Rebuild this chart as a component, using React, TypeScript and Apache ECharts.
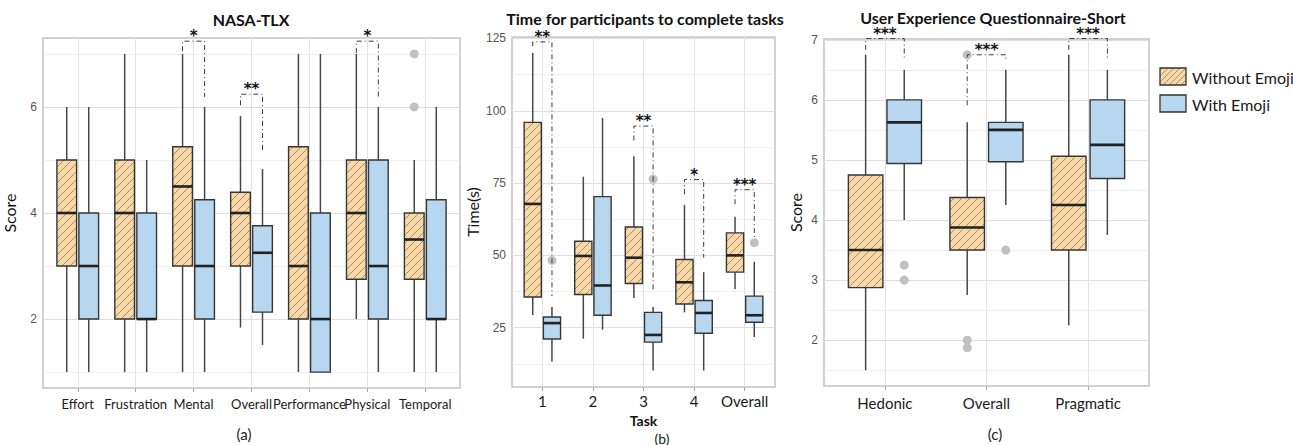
import React, { useEffect, useRef } from 'react';
import * as echarts from 'echarts';

// ---------- DATA ----------
// Box rows: [min, Q1, median, Q3, max]
const tlxCategories = ['Effort', 'Frustration', 'Mental', 'Overall', 'Performance', 'Physical', 'Temporal'];
const tlxWithout = [
  [1, 3, 4, 5, 6],
  [1, 2, 4, 5, 7],
  [1, 3, 4.5, 5.25, 7],
  [1.84, 3, 4, 4.39, 5.83],
  [1, 2, 3, 5.25, 7],
  [2, 2.75, 4, 5, 7],
  [1, 2.75, 3.5, 4, 5],
];
const tlxWith = [
  [1, 2, 3, 4, 6],
  [1, 2, 2, 4, 5],
  [1, 2, 3, 4.25, 6],
  [1.51, 2.13, 3.25, 3.76, 4.83],
  [1, 1, 2, 4, 7],
  [1, 2, 3, 5, 6],
  [1, 2, 2, 4.25, 6],
];
// [category index, group (0 without / 1 with), value]
const tlxOutliers = [[6, 0, 7], [6, 0, 6]];
// [category index, bracket top, left leg end, right leg end, label]
const tlxSig: [number, number, number, number, string][] = [
  [2, 7.24, 7.05, 6.19, '*'],
  [3, 6.24, 6.03, 5.18, '**'],
  [5, 7.24, 7.02, 6.19, '*'],
];
const tlxMajorTicks = [2, 4, 6];
const tlxMinorTicks = [1, 3, 5, 7];

const taskCategories = ['1', '2', '3', '4', 'Overall'];
const timeWithout = [
  [29.4, 35.6, 67.8, 96, 120],
  [21.2, 36.5, 49.8, 54.9, 77.2],
  [35.3, 40.3, 49.2, 59.8, 84.3],
  [30.3, 33.2, 40.7, 48.6, 67.4],
  [38.4, 44.2, 50, 57.8, 63.4],
];
const timeWith = [
  [13.3, 21.1, 26.6, 28.7, 32.2],
  [24.3, 29.3, 39.6, 70.3, 97.5],
  [10.2, 20, 22.5, 30.3, 32.2],
  [10.2, 23.1, 30.1, 34.4, 44.2],
  [21.8, 26.9, 29.3, 35.9, 47.8],
];
const timeOutliers = [[0, 1, 48.3], [2, 1, 76.4], [4, 1, 54.4]];
const timeSig: [number, number, number, number, string][] = [
  [0, 123.8, 122.3, 35.9, '**'],
  [2, 94.7, 89.7, 37.6, '**'],
  [3, 76.2, 71.2, 49.2, '*'],
  [4, 72.7, 67.7, 56.1, '***'],
];
const timeMajorTicks = [25, 50, 75, 100, 125];
const timeMinorTicks = [12.5, 37.5, 62.5, 87.5, 112.5];

const ueqCategories = ['Hedonic', 'Overall', 'Pragmatic'];
const ueqWithout = [
  [1.5, 2.875, 3.5, 4.75, 6.75],
  [2.75, 3.5, 3.875, 4.375, 5.625],
  [2.25, 3.5, 4.25, 5.06, 6.75],
];
const ueqWith = [
  [4, 4.94, 5.625, 6, 6.5],
  [4.25, 4.97, 5.5, 5.625, 6.5],
  [3.75, 4.69, 5.25, 6, 6.5],
];
const ueqOutliers = [[0, 1, 3.25], [0, 1, 3], [1, 0, 6.75], [1, 0, 2], [1, 0, 1.875], [1, 1, 3.5]];
const ueqSig: [number, number, number, number, string][] = [
  [0, 7.02, 6.83, 6.68, '***'],
  [1, 6.75, 5.91, 6.68, '***'],
  [2, 7.02, 6.83, 6.68, '***'],
];
const ueqMajorTicks = [2, 3, 4, 5, 6, 7];
const ueqMinorTicks = [1.5, 2.5, 3.5, 4.5, 5.5, 6.5];

const seriesNames = ['Without Emoji', 'With Emoji'];

// ---------- STYLE ----------
const ORANGE = '#F8D8A6';
const BLUE = '#B7D7F1';
const HATCH = '#957e5e';
const BOX_BORDER = '#363636';
const WHISKER = '#474747';
const MEDIAN = '#222222';
const OUTLIER = '#c0c0c0';
const OFFSET = 0.19;
const BOX_WIDTH = 0.34;
const FONT = 'Lato, "Open Sans", sans-serif';
const STAR_FONT = '"DejaVu Sans", sans-serif';

function hatchLines(x0: number, y0: number, x1: number, y1: number, step: number, color: string, lw: number) {
  const out: any[] = [];
  const cStart = Math.ceil((x0 + y0) / step) * step;
  for (let c = cStart; c <= x1 + y1; c += step) {
    const xa = Math.max(x0, c - y1);
    const xb = Math.min(x1, c - y0);
    if (xb - xa > 0.4) {
      out.push({
        type: 'line',
        shape: { x1: xa, y1: c - xa, x2: xb, y2: c - xb },
        style: { stroke: color, lineWidth: lw },
        silent: true,
      });
    }
  }
  return out;
}

function boxRenderer(offset: number, fill: string, hatched: boolean) {
  return (params: any, api: any) => {
    const x = (api.value(0) as number) + offset;
    const pMin = api.coord([x, api.value(1)]);
    const pQ1 = api.coord([x, api.value(2)]);
    const pMed = api.coord([x, api.value(3)]);
    const pQ3 = api.coord([x, api.value(4)]);
    const pMax = api.coord([x, api.value(5)]);
    const w = api.size([BOX_WIDTH, 0])[0];
    const xc = pMed[0];
    const x0 = xc - w / 2;
    const x1 = xc + w / 2;
    const children: any[] = [
      { type: 'line', shape: { x1: xc, y1: pMax[1], x2: xc, y2: pQ3[1] }, style: { stroke: WHISKER, lineWidth: 1.5 } },
      { type: 'line', shape: { x1: xc, y1: pQ1[1], x2: xc, y2: pMin[1] }, style: { stroke: WHISKER, lineWidth: 1.5 } },
      { type: 'rect', shape: { x: x0, y: pQ3[1], width: w, height: pQ1[1] - pQ3[1] }, style: { fill, stroke: 'none' } },
    ];
    if (hatched) {
      children.push(...hatchLines(x0, pQ3[1], x1, pQ1[1], 8, HATCH, 0.8));
    }
    children.push(
      { type: 'rect', shape: { x: x0, y: pQ3[1], width: w, height: pQ1[1] - pQ3[1] }, style: { fill: 'none', stroke: BOX_BORDER, lineWidth: 1.4 } },
      { type: 'line', shape: { x1: x0, y1: pMed[1], x2: x1, y2: pMed[1] }, style: { stroke: MEDIAN, lineWidth: 2.6 } },
    );
    return { type: 'group', children };
  };
}

function sigRenderer(sig: [number, number, number, number, string][]) {
  return (params: any, api: any) => {
    const row = sig[params.dataIndex];
    const cat = row[0];
    const pl = api.coord([cat - OFFSET, row[1]]);
    const pr = api.coord([cat + OFFSET, row[1]]);
    const yl = api.coord([cat - OFFSET, row[2]])[1];
    const yr = api.coord([cat + OFFSET, row[3]])[1];
    return {
      type: 'group',
      children: [
        {
          type: 'polyline',
          shape: { points: [[pl[0], yl], [pl[0], pl[1]], [pr[0], pr[1]], [pr[0], yr]] },
          style: { stroke: '#3a3a3a', lineWidth: 1, lineDash: [5, 3, 1, 3], fill: 'none' },
        },
        {
          type: 'text',
          x: (pl[0] + pr[0]) / 2,
          y: pl[1] - 5,
          style: { text: row[4], align: 'center', verticalAlign: 'middle', fontSize: 15, fontWeight: 'bold', fontFamily: STAR_FONT, fill: '#111' },
        },
      ],
    };
  };
}

type Panel = {
  cats: string[];
  without: number[][];
  withE: number[][];
  outliers: number[][];
  sig: [number, number, number, number, string][];
  major: number[];
  minor: number[];
  yMin: number;
  yMax: number;
  grid: { left: number; top: number; width: number; height: number };
  yName: string;
  yNameGap: number;
  xName?: string;
  xFont: number;
  xMargin: number;
};

const panels: Panel[] = [
  {
    cats: tlxCategories, without: tlxWithout, withE: tlxWith, outliers: tlxOutliers, sig: tlxSig,
    major: tlxMajorTicks, minor: tlxMinorTicks, yMin: 0.7, yMax: 7.3,
    grid: { left: 43, top: 38, width: 417, height: 350 }, yName: 'Score', yNameGap: 26, xFont: 13, xMargin: 9,
  },
  {
    cats: taskCategories, without: timeWithout, withE: timeWith, outliers: timeOutliers, sig: timeSig,
    major: timeMajorTicks, minor: timeMinorTicks, yMin: 4.5, yMax: 125.5,
    grid: { left: 512, top: 37, width: 263, height: 350 }, yName: 'Time(s)', yNameGap: 32, xName: 'Task', xFont: 15, xMargin: 6,
  },
  {
    cats: ueqCategories, without: ueqWithout, withE: ueqWith, outliers: ueqOutliers, sig: ueqSig,
    major: ueqMajorTicks, minor: ueqMinorTicks, yMin: 1.2375, yMax: 7.0125,
    grid: { left: 824, top: 39, width: 325, height: 347 }, yName: 'Score', yNameGap: 21, xFont: 15, xMargin: 9,
  },
];

function buildOption() {
  const grid: any[] = [];
  const xAxis: any[] = [];
  const yAxis: any[] = [];
  const series: any[] = [];

  panels.forEach((p, i) => {
    const idx = p.cats.map((_, k) => k);
    grid.push({ ...p.grid, show: true, borderColor: '#c2c2c2', borderWidth: 1.5, backgroundColor: 'transparent', containLabel: false });
    xAxis.push({
      type: 'value', gridIndex: i, min: -0.6, max: p.cats.length - 0.4,
      name: p.xName || '', nameLocation: 'middle', nameGap: 26, nameMoveOverlap: false,
      nameTextStyle: { fontFamily: FONT, fontSize: 14, fontWeight: 'bold', color: '#111' },
      axisLine: { show: false },
      axisTick: { show: true, customValues: idx, length: 4, lineStyle: { color: '#a8a8a8' } },
      axisLabel: {
        customValues: idx, margin: p.xMargin, fontSize: p.xFont, fontFamily: FONT, color: '#1a1a1a',
        formatter: (v: number) => p.cats[Math.round(v)] ?? '',
      },
      splitLine: { show: false },
    });
    yAxis.push({
      type: 'value', gridIndex: i, min: p.yMin, max: p.yMax,
      name: p.yName, nameLocation: 'middle', nameGap: p.yNameGap, nameRotate: 90,
      nameTextStyle: { fontFamily: FONT, fontSize: 16, color: '#111' },
      axisLine: { show: false },
      axisTick: { show: true, customValues: p.major, length: 4, lineStyle: { color: '#a8a8a8' } },
      axisLabel: { customValues: p.major, margin: 6, fontSize: 12, fontFamily: '"Liberation Sans", Arial, sans-serif', color: '#555' },
      splitLine: { show: false },
    });

    // grid lines
    series.push({
      type: 'line', xAxisIndex: i, yAxisIndex: i, data: [], silent: true,
      markLine: {
        silent: true, z: 1, symbol: ['none', 'none'], label: { show: false },
        lineStyle: { type: 'solid', color: '#e0e0e0', width: 1 },
        emphasis: { disabled: true },
        data: [
          ...p.major.map((v) => ({ yAxis: v, lineStyle: { type: 'solid', color: '#dedede', width: 1 } })),
          ...p.minor.map((v) => ({ yAxis: v, lineStyle: { type: 'solid', color: '#ebebeb', width: 0.8 } })),
          ...idx.map((v) => ({ xAxis: v, lineStyle: { type: 'solid', color: '#e2e2e2', width: 1 } })),
        ],
      },
    });

    series.push({
      type: 'custom', name: seriesNames[0], xAxisIndex: i, yAxisIndex: i, z: 3,
      itemStyle: { color: ORANGE, borderColor: BOX_BORDER, borderWidth: 1 },
      renderItem: boxRenderer(-OFFSET, ORANGE, true),
      encode: { x: 0, y: [1, 2, 3, 4, 5] },
      data: p.without.map((r, k) => [k, ...r]),
    });
    series.push({
      type: 'custom', name: seriesNames[1], xAxisIndex: i, yAxisIndex: i, z: 3,
      itemStyle: { color: BLUE, borderColor: BOX_BORDER, borderWidth: 1 },
      renderItem: boxRenderer(OFFSET, BLUE, false),
      encode: { x: 0, y: [1, 2, 3, 4, 5] },
      data: p.withE.map((r, k) => [k, ...r]),
    });
    series.push({
      type: 'scatter', xAxisIndex: i, yAxisIndex: i, z: 4, silent: true,
      symbol: 'circle', symbolSize: 9,
      itemStyle: { color: OUTLIER, opacity: 1 },
      data: p.outliers.map(([c, g, v]) => [c + (g === 0 ? -OFFSET : OFFSET), v]),
    });
    series.push({
      type: 'custom', xAxisIndex: i, yAxisIndex: i, z: 5, clip: false, silent: true,
      renderItem: sigRenderer(p.sig),
      encode: { x: 0, y: [1, 2, 3] },
      data: p.sig.map((r) => [r[0], r[1], r[2], r[3]]),
    });
  });

  const titleStyle = { fontFamily: FONT, fontSize: 16, fontWeight: 'bold', fill: '#111', align: 'center', verticalAlign: 'middle' };
  const capStyle = { fontFamily: FONT, fontSize: 15, fill: '#222', align: 'center', verticalAlign: 'middle' };

  const legendHatch = hatchLines(1160, 68, 1186, 85, 6, HATCH, 0.8);

  const graphic: any[] = [
    { type: 'text', x: 251, y: 19, style: { ...titleStyle, text: 'NASA-TLX' } },
    { type: 'text', x: 645, y: 18, style: { ...titleStyle, text: 'Time for participants to complete tasks' } },
    { type: 'text', x: 993, y: 17, style: { ...titleStyle, text: 'User Experience Questionnaire-Short' } },
    { type: 'text', x: 244, y: 434, style: { ...capStyle, text: '(a)' } },
    { type: 'text', x: 662, y: 438, style: { ...capStyle, fontSize: 14, text: '(b)' } },
    { type: 'text', x: 995, y: 434, style: { ...capStyle, text: '(c)' } },
    { type: 'rect', shape: { x: 1160, y: 68, width: 26, height: 17 }, style: { fill: ORANGE, stroke: 'none' } },
    ...legendHatch,
    { type: 'rect', shape: { x: 1160, y: 68, width: 26, height: 17 }, style: { fill: 'none', stroke: '#333', lineWidth: 1.3 } },
    { type: 'text', x: 1192, y: 77.5, style: { text: seriesNames[0], fontFamily: FONT, fontSize: 16, fill: '#1a1a1a', verticalAlign: 'middle' } },
    { type: 'rect', shape: { x: 1160, y: 95, width: 26, height: 17 }, style: { fill: BLUE, stroke: '#333', lineWidth: 1.3 } },
    { type: 'text', x: 1192, y: 104, style: { text: seriesNames[1], fontFamily: FONT, fontSize: 16, fill: '#1a1a1a', verticalAlign: 'middle' } },
  ];

  return { animation: false, backgroundColor: '#fff', grid, xAxis, yAxis, series, graphic };
}

export default function App() {
  const ref = useRef<HTMLDivElement>(null);
  useEffect(() => {
    if (!ref.current) return;
    const chart = echarts.init(ref.current, undefined, { renderer: 'svg' });
    chart.setOption(buildOption() as any);
    return () => chart.dispose();
  }, []);
  return (
    <div
      ref={ref}
      style={{ position: 'fixed', left: 0, top: 0, width: 1293, height: 445, background: '#fff' }}
    />
  );
}
